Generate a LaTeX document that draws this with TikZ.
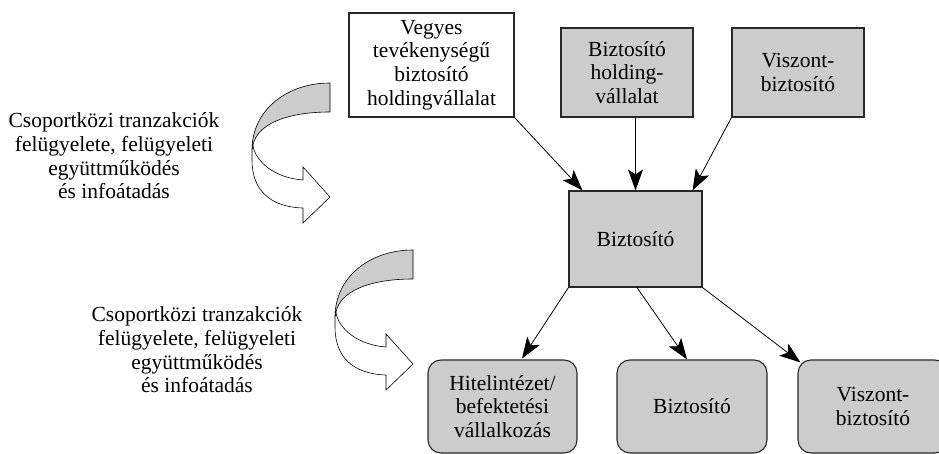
\documentclass[tikz,border=0pt]{standalone}
\usepackage{fontspec}
\setmainfont{Liberation Serif}
\usetikzlibrary{arrows.meta,calc}
\definecolor{boxgray}{RGB}{204,204,204}
\definecolor{edge}{RGB}{40,40,40}

\tikzset{
  txt/.style={font=\fontsize{21.5}{23.6}\selectfont, align=center, inner sep=0pt},
  sqbox/.style={txt, draw=edge, line width=1.1pt, fill=boxgray},
  rbox/.style={sqbox, rounded corners=13pt},
  link/.style={draw=black, line width=0.8pt,
    -{Stealth[length=21pt,width=15pt,inset=5pt]}},
  ribbon/.pic={
    % back side of the band, shaded
    \filldraw[fill=boxgray, draw=black, line width=0.6pt]
      (78,0) .. controls (35,0) and (0,27) .. (0,67) -- (1,62)
      .. controls (5,42) and (33,29) .. (78,29) -- cycle;
    % front side of the band with the arrow head
    \filldraw[fill=white, draw=black, line width=0.6pt]
      (1,63) .. controls (4,79) and (23,95) .. (51,97)
      -- (51,84) -- (78,114) -- (51,140) -- (51,125)
      .. controls (18,124) and (0,107) .. (0,77) -- (0,67) -- cycle;
  }
}

\begin{document}
\begin{tikzpicture}[x=1pt, y=-1pt]
\useasboundingbox (0,0) rectangle (939,454);
\fill[white] (0,0) rectangle (939,454);

% upper level
\node[sqbox, fill=white, minimum width=165pt, minimum height=104pt] (vegyes) at (431.5,65)
  {Vegyes\\tevékenységű\\biztosító\\holdingvállalat};
\node[sqbox, minimum width=132pt, minimum height=89pt] (holding) at (627,72.5)
  {Biztosító\\holding-\\vállalat};
\node[sqbox, minimum width=132pt, minimum height=89pt] (viszontT) at (798,72.5)
  {Viszont-\\biztosító};

% middle
\node[sqbox, minimum width=133pt, minimum height=96pt] (biz) at (635.5,239) {Biztosító};

% lower level
\node[rbox, minimum width=149pt, minimum height=93pt] (hitel) at (502.5,406.5)
  {Hitelintézet/\\befektetési\\vállalkozás};
\node[rbox, minimum width=150pt, minimum height=93pt] (bizB) at (692,406.5) {Biztosító};
\node[rbox, minimum width=150pt, minimum height=93pt] (viszontB) at (873,406.5)
  {Viszont-\\biztosító};

% connectors
\draw[link] (vegyes.south east) -- ($(biz.north west)+(14,0)$);
\draw[link] (biz.north |- holding.south) -- (biz.north);
\draw[link] (viszontT.south west) -- ($(biz.north east)+(-10,0)$);
\draw[link] (biz.south west) -- ($(hitel.north)+(19.5,-1)$);
\draw[link] ($(biz.south)+(1.5,0)$) -- ($(bizB.north)+(-5,0)$);
\draw[link] (biz.south east) -- ($(viszontB.north west)+(3,3)$);

% side notes
\node[txt] (noteA) at (114,156)
  {Csoportközi tranzakciók\\felügyelete, felügyeleti\\együttműködés\\és infoátadás};
\node[txt] (noteB) at (197,350)
  {Csoportközi tranzakciók\\felügyelete, felügyeleti\\együttműködés\\és infoátadás};

% curved block arrows
\pic at (252,83) {ribbon};
\pic at (335,250) {ribbon};
\end{tikzpicture}
\end{document}
